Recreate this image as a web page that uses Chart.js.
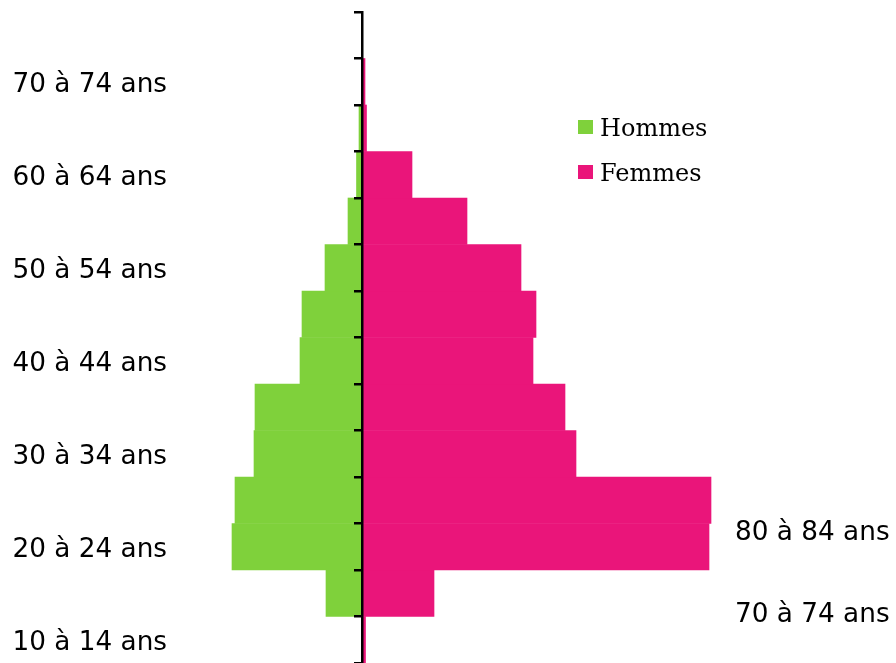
<!DOCTYPE html>
<html>
<head>
<meta charset="utf-8">
<script src="https://cdn.jsdelivr.net/npm/chart.js@4"></script>
<style>
html,body{margin:0;padding:0;background:#fff;}
canvas{display:block;}
</style>
</head>
<body>
<canvas id="c" width="896" height="663"></canvas>
<script>
// ---- data (bottom to top) ----
const categories = ['10 à 14 ans','15 à 19 ans','20 à 24 ans','25 à 29 ans','30 à 34 ans','35 à 39 ans','40 à 44 ans','45 à 49 ans','50 à 54 ans','55 à 59 ans','60 à 64 ans','65 à 69 ans','70 à 74 ans','75 à 79 ans'];
const hommes = [0, 36, 130, 127, 108, 107, 62, 60, 37, 14, 5.5, 3, 0, 0];
const femmes = [3.5, 72, 347, 349, 214, 203, 171, 174, 159, 105, 50, 4.5, 3, 0];
const seriesNames = ['Hommes', 'Femmes'];
const rightLabels = ['80 à 84 ans', '70 à 74 ans'];
const rightLabelValues = [2.86, 1.1];
const xMin = -182, xMax = 363;

const GREEN = '#7FD13B';
const PINK = '#EA157A';

const legendPlugin = {
  id: 'customLegend',
  afterDraw(chart, args, opts) {
    const ctx = chart.ctx;
    ctx.save();
    ctx.font = opts.font;
    ctx.textBaseline = 'alphabetic';
    ctx.textAlign = 'left';
    chart.data.datasets.forEach((ds, i) => {
      const y = opts.y + i * opts.rowGap;
      ctx.fillStyle = ds.backgroundColor;
      ctx.fillRect(opts.x, y, opts.boxW, opts.boxH);
      ctx.fillStyle = opts.color;
      ctx.fillText(ds.label, opts.x + opts.textOffset, y + opts.baselineOffset);
    });
    ctx.restore();
  }
};

new Chart(document.getElementById('c'), {
  type: 'bar',
  data: {
    labels: categories,
    datasets: [
      { label: seriesNames[0], data: hommes.map(v => -v), backgroundColor: GREEN, borderWidth: 0, grouped: false, barPercentage: 1, categoryPercentage: 1, yAxisID: 'y' },
      { label: seriesNames[1], data: femmes, backgroundColor: PINK, borderWidth: 0, grouped: false, barPercentage: 1, categoryPercentage: 1, yAxisID: 'y' }
    ]
  },
  options: {
    indexAxis: 'y',
    responsive: false,
    animation: false,
    layout: { padding: { top: 12, bottom: 0, left: 0, right: 0 } },
    plugins: {
      legend: { display: false },
      tooltip: { enabled: false },
      customLegend: {
        x: 578, y: 120, boxW: 15, boxH: 14, rowGap: 45, textOffset: 22, baselineOffset: 15.7,
        font: '24px "DejaVu Serif"', color: '#000'
      }
    },
    scales: {
      x: { type: 'linear', min: xMin, max: xMax, display: false },
      y: {
        type: 'category', position: 'left', reverse: true, offset: true,
        grid: { display: false, drawTicks: false },
        border: { display: false },
        ticks: {
          autoSkip: false, padding: 13, color: '#000', labelOffset: 3,
          font: { family: '"DejaVu Sans"', size: 26.3 },
          callback: (v, i) => (i % 2 === 0 ? categories[i] : '')
        },
        afterFit: s => { s.width = 180; s.paddingTop = 0; s.paddingBottom = 0; }
      },
      yc: {
        type: 'category', labels: categories, position: { x: 0 }, reverse: true, offset: true,
        grid: { offset: true, drawOnChartArea: false, drawTicks: true, tickLength: 7, color: '#000', lineWidth: 2.5, z: 1 },
        border: { display: true, color: '#000', width: 2.5, z: 1 },
        ticks: { display: false },
        afterFit: s => { s.paddingTop = 0; s.paddingBottom = 0; }
      },
      y2: {
        type: 'linear', position: 'right', min: 0, max: 14, offset: false,
        grid: { display: false, drawTicks: false },
        border: { display: false },
        ticks: {
          padding: 10, color: '#000', labelOffset: 3, autoSkip: false,
          font: { family: '"DejaVu Sans"', size: 26.3 },
          callback: (v, i) => rightLabels[i]
        },
        afterBuildTicks: s => { s.ticks = rightLabelValues.map(v => ({ value: v })); },
        afterFit: s => { s.width = 171; s.paddingTop = 0; s.paddingBottom = 0; }
      }
    }
  },
  plugins: [legendPlugin]
});
</script>
</body>
</html>
